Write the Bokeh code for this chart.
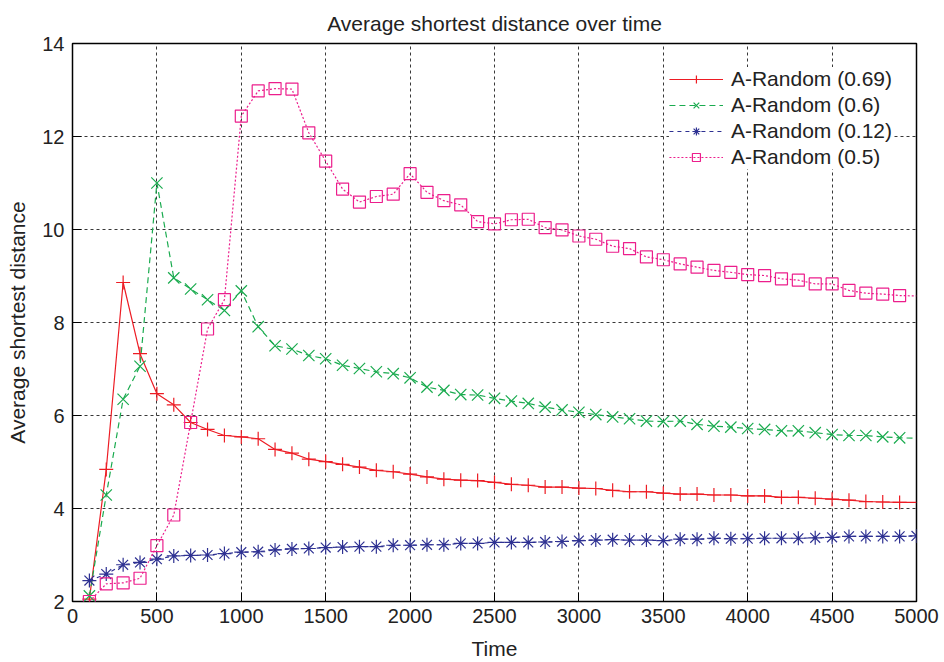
from bokeh.plotting import figure
from bokeh.models import FixedTicker, Legend, LegendItem, Range1d, ColumnDataSource
from bokeh.embed import file_html
from bokeh.resources import INLINE

# ---- data ----
time = [100, 200, 300, 400, 500, 600, 700, 800, 900, 1000,
        1100, 1200, 1300, 1400, 1500, 1600, 1700, 1800, 1900, 2000,
        2100, 2200, 2300, 2400, 2500, 2600, 2700, 2800, 2900, 3000,
        3100, 3200, 3300, 3400, 3500, 3600, 3700, 3800, 3900, 4000,
        4100, 4200, 4300, 4400, 4500, 4600, 4700, 4800, 4900, 5000]

random_069 = [2.05, 4.84, 8.86, 7.33, 6.47, 6.23, 5.85, 5.70, 5.57, 5.54,
              5.50, 5.27, 5.19, 5.06, 5.01, 4.95, 4.89, 4.82, 4.79, 4.74,
              4.68, 4.63, 4.61, 4.60, 4.56, 4.52, 4.50, 4.46, 4.46, 4.44,
              4.43, 4.39, 4.36, 4.36, 4.33, 4.31, 4.31, 4.29, 4.29, 4.27,
              4.27, 4.24, 4.24, 4.22, 4.20, 4.18, 4.15, 4.14, 4.13, 4.13]

random_06 = [2.12, 4.29, 6.35, 7.06, 11.00, 8.96, 8.72, 8.49, 8.26, 8.68,
             7.91, 7.50, 7.43, 7.29, 7.22, 7.08, 7.01, 6.94, 6.90, 6.81,
             6.61, 6.54, 6.45, 6.44, 6.37, 6.31, 6.26, 6.18, 6.12, 6.07,
             6.02, 5.97, 5.93, 5.88, 5.87, 5.88, 5.81, 5.77, 5.75, 5.72,
             5.70, 5.67, 5.67, 5.63, 5.59, 5.57, 5.57, 5.54, 5.52, 5.51]

random_012 = [2.45, 2.59, 2.79, 2.84, 2.91, 2.98, 2.99, 3.00, 3.03, 3.06,
              3.07, 3.11, 3.13, 3.14, 3.16, 3.17, 3.18, 3.18, 3.21, 3.21,
              3.22, 3.22, 3.25, 3.25, 3.27, 3.27, 3.27, 3.28, 3.29, 3.31,
              3.32, 3.33, 3.32, 3.32, 3.31, 3.34, 3.34, 3.36, 3.35, 3.35,
              3.36, 3.36, 3.36, 3.37, 3.38, 3.40, 3.40, 3.40, 3.40, 3.41]

random_05 = [2.00, 2.38, 2.40, 2.50, 3.20, 3.86, 5.85, 7.86, 8.49, 12.44,
             12.98, 13.03, 13.02, 12.08, 11.47, 10.87, 10.59, 10.71, 10.76, 11.20,
             10.80, 10.62, 10.53, 10.17, 10.12, 10.21, 10.22, 10.04, 9.99, 9.86,
             9.79, 9.64, 9.59, 9.41, 9.35, 9.26, 9.19, 9.12, 9.08, 9.03,
             9.01, 8.94, 8.91, 8.83, 8.83, 8.69, 8.63, 8.61, 8.58, 8.57]

series_labels = ["A-Random (0.69)", "A-Random (0.6)", "A-Random (0.12)", "A-Random (0.5)"]
x_ticks = [0, 500, 1000, 1500, 2000, 2500, 3000, 3500, 4000, 4500, 5000]
y_ticks = [2, 4, 6, 8, 10, 12, 14]

FONT = "Liberation Sans"

p = figure(width=944, height=662, output_backend="svg", toolbar_location=None,
           x_range=Range1d(0, 5000), y_range=Range1d(2, 14),
           min_border_left=72, min_border_right=28, min_border_top=43, min_border_bottom=60,
           title="Average shortest distance over time")

p.background_fill_color = "white"
p.border_fill_color = "white"
p.outline_line_color = "black"
p.outline_line_width = 1.5
p.outline_line_alpha = 1.0

p.title.align = "center"
p.title.vertical_align = "top"
p.title.text_font = FONT
p.title.text_font_size = "21px"
p.title.text_font_style = "normal"
p.title.text_color = "#222222"
p.title.standoff = 14

p.xaxis.ticker = FixedTicker(ticks=x_ticks)
p.yaxis.ticker = FixedTicker(ticks=y_ticks)
p.xaxis.axis_label = "Time"
p.yaxis.axis_label = "Average shortest distance"
for ax in (p.xaxis, p.yaxis):
    ax.axis_line_color = None
    ax.major_tick_in = 9
    ax.major_tick_out = 0
    ax.major_tick_line_color = "black"
    ax.minor_tick_line_color = None
    ax.major_label_text_font = FONT
    ax.major_label_text_font_size = "20px"
    ax.major_label_text_color = "#222222"
    ax.axis_label_text_font = FONT
    ax.axis_label_text_font_size = "21px"
    ax.axis_label_text_font_style = "normal"
    ax.axis_label_text_color = "#222222"
p.xaxis.major_label_standoff = 7
p.xaxis.axis_label_standoff = 11
p.yaxis.major_label_standoff = 8
p.yaxis.axis_label_standoff = 10

p.xgrid.ticker = FixedTicker(ticks=x_ticks)
p.ygrid.ticker = FixedTicker(ticks=y_ticks)
for g in (p.xgrid, p.ygrid):
    g.grid_line_color = "#222222"
    g.grid_line_dash = "3 3"
    g.grid_line_width = 1
    g.grid_line_alpha = 0.9

src = ColumnDataSource(dict(t=time, a=random_069, b=random_06, c=random_012, d=random_05))
n = len(time) - 1
mk = ColumnDataSource(dict(t=time[:n], a=random_069[:n], b=random_06[:n], d=random_05[:n]))

colors = ["#ed1c24", "#1aab4f", "#2e3192", "#ec1e8c"]

items = []
l1 = p.line("t", "a", source=src, color=colors[0], line_width=1.2)
s1 = p.scatter("t", "a", source=mk, marker="cross", size=14, line_color=colors[0], line_width=1.2)
items.append(LegendItem(label=series_labels[0], renderers=[l1, s1]))

l2 = p.line("t", "b", source=src, color=colors[1], line_width=1.2, line_dash="6 4")
s2 = p.scatter("t", "b", source=mk, marker="x", size=16, line_color=colors[1], line_width=1.2)
items.append(LegendItem(label=series_labels[1], renderers=[l2, s2]))

l3 = p.line("t", "c", source=src, color=colors[2], line_width=1.2, line_dash="4 4")
s3 = p.scatter("t", "c", source=src, marker="asterisk", size=14, line_color=colors[2], line_width=1.2)
items.append(LegendItem(label=series_labels[2], renderers=[l3, s3]))

l4 = p.line("t", "d", source=src, color=colors[3], line_width=1.2, line_dash="2 2")
s4 = p.scatter("t", "d", source=mk, marker="square", size=12, line_color=colors[3],
               fill_color=None, line_width=1.2)
items.append(LegendItem(label=series_labels[3], renderers=[l4, s4]))

legend = Legend(items=items, location="top_right")
legend.border_line_color = None
legend.background_fill_color = "white"
legend.background_fill_alpha = 1.0
legend.label_text_font = FONT
legend.label_text_font_size = "21px"
legend.label_text_color = "#222222"
legend.glyph_width = 54
legend.glyph_height = 20
legend.label_height = 20
legend.spacing = 2
legend.padding = 8
legend.margin = 24
legend.label_standoff = 8
p.add_layout(legend)

open("out.html", "w").write(file_html(p, INLINE))
